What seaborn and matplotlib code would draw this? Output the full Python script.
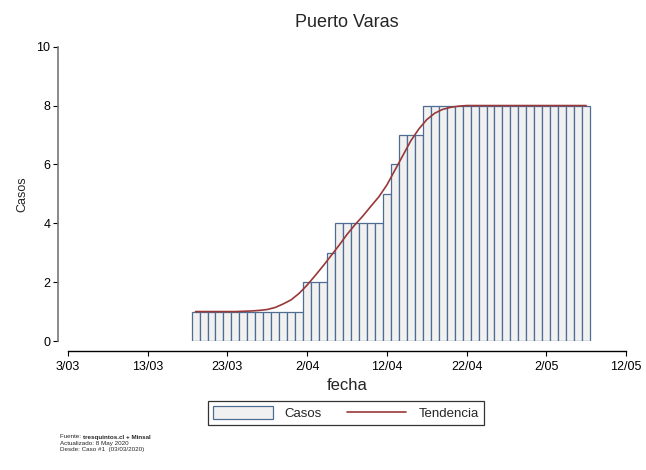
import matplotlib
matplotlib.use("Agg")
import matplotlib.pyplot as plt
import seaborn as sns
import pandas as pd
from matplotlib.patches import Patch
from matplotlib.lines import Line2D

# dias desde 3/03 (dia 0)
dias = list(range(16, 66))
casos = [1] * 14 + [2, 2, 2, 3, 4, 4, 4, 4, 4, 4, 5, 6, 7, 7, 7] + [8] * 21
tendencia = [1.00, 1.00, 1.00, 1.00, 1.00, 1.00, 1.01, 1.02, 1.04, 1.07,
             1.14, 1.26, 1.40, 1.62, 1.90, 2.22, 2.55, 2.90, 3.25, 3.62,
             3.95, 4.25, 4.58, 4.90, 5.30, 5.80, 6.30, 6.80, 7.20, 7.52,
             7.74, 7.87, 7.94, 7.98, 8.00] + [8.00] * 15
tick_dias = [0, 10, 20, 30, 40, 50, 60, 70]
tick_labels = ["3/03", "13/03", "23/03", "2/04", "12/04", "22/04", "2/05", "12/05"]

sns.set_style("white")
plt.rcParams['font.family'] = ['Liberation Sans', 'DejaVu Sans']

df = pd.DataFrame({'dia': dias, 'casos': casos, 'tendencia': tendencia})

bar_fill = '#f1f1f1'
bar_edge = '#4f6d92'
line_col = '#983838'

fig = plt.figure(figsize=(6.46, 4.70), dpi=100)
ax = fig.add_axes([68 / 646, 1 - 341 / 470, 558 / 646, (341 - 46.7) / 470])

sns.histplot(data=df, x='dia', weights='casos', discrete=True, ax=ax,
             color=bar_fill, edgecolor=bar_edge, linewidth=0.9, alpha=1)
sns.lineplot(data=df, x='dia', y='tendencia', ax=ax, color=line_col, linewidth=1.2)

ax.set_xlim(0, 70)
ax.set_ylim(0, 10)
ax.set_xticks(tick_dias)
ax.set_xticklabels(tick_labels)
ax.set_yticks([0, 2, 4, 6, 8, 10])
ax.tick_params(axis='both', direction='out', length=3.6, width=0.8, pad=2,
               labelsize=9, colors='black', bottom=True, left=True)
ax.tick_params(axis='x', pad=3.5)
for s in ['top', 'right']:
    ax.spines[s].set_visible(False)
ax.spines['left'].set_position(('outward', 7))
ax.spines['bottom'].set_position(('outward', 7))
ax.spines['left'].set_color('#777777')
ax.spines['bottom'].set_color('black')
ax.spines['left'].set_linewidth(1.2)
ax.spines['bottom'].set_linewidth(1.0)

ax.set_xlabel('fecha', fontsize=12, labelpad=4)
ax.set_ylabel('Casos', fontsize=9)
ax.yaxis.set_label_coords(-0.071, 0.5)
ax.set_title('Puerto Varas', fontsize=13, pad=14)

handles = [Patch(facecolor=bar_fill, edgecolor=bar_edge, linewidth=0.9),
           Line2D([0], [0], color=line_col, linewidth=1.2)]
leg = fig.legend(handles, ['Casos', 'Tendencia'], loc='center',
                 bbox_to_anchor=(346 / 646, 1 - 413 / 470), ncol=2, fontsize=9.5,
                 frameon=True, fancybox=False, handlelength=4.5, handleheight=1.1,
                 columnspacing=1.9, borderpad=0.4, handletextpad=0.9)
leg.get_frame().set_edgecolor('black')
leg.get_frame().set_linewidth(0.9)

t1 = fig.text(60 / 646, 1 - 437 / 470, 'Fuente: ', fontsize=4.5, va='center')
fig.canvas.draw()
w = t1.get_window_extent().width
fig.text(60 / 646 + w / 646, 1 - 437 / 470, 'tresquintos.cl + Minsal', fontsize=4.5,
         va='center', weight='bold')
fig.text(60 / 646, 1 - 443 / 470, 'Actualizado: 8 May 2020', fontsize=4.5, va='center')
fig.text(60 / 646, 1 - 449 / 470, 'Desde: Caso #1  (03/03/2020)', fontsize=4.5, va='center')

fig.savefig('out.png', dpi=100)
